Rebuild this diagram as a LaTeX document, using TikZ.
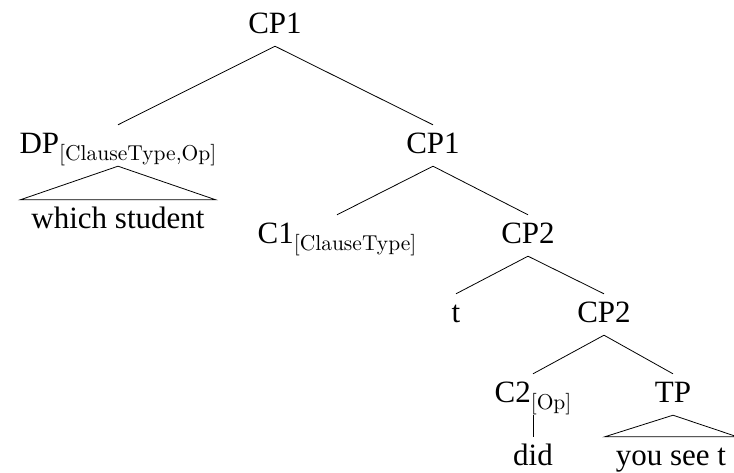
\documentclass[tikz,border=0pt]{standalone}
\usepackage{fontspec}
\setmainfont{Liberation Serif}
\newfontfamily\lmfont{lmroman10-regular.otf}
\newcommand{\sbs}[1]{\raisebox{-7pt}{\fontsize{21.5}{24}\lmfont #1}}
\tikzset{
  lab/.style={anchor=base, inner sep=0pt, text height=28pt, text depth=13pt, font=\fontsize{31}{36}\selectfont},
  leaf/.style={lab, inner xsep=11pt, text depth=6pt},
  br/.style={line width=0.8pt}
}
\begin{document}
\begin{tikzpicture}[x=1pt,y=-1pt]
\useasboundingbox (0,0) rectangle (734,472);
\node[lab] (cp1) at (275,33) {CP1};
\node[lab] (dp) at (118,153) {DP\sbs{[ClauseType,Op]}};
\node[lab] (cp1b) at (433,153) {CP1};
\node[leaf] (ws) at (118,228) {which student};
\node[lab] (c1) at (337,243) {C1\sbs{[ClauseType]}};
\node[lab] (cp2) at (528,243) {CP2};
\node[lab] (t) at (456,322) {t};
\node[lab] (cp2b) at (604,322) {CP2};
\node[lab] (c2) at (533,402) {C2\sbs{[Op]}};
\node[lab] (tp) at (673,402) {TP};
\node[lab] (did) at (533,465) {did};
\node[leaf] (yst) at (671,465) {you see t};
\draw[br] (cp1.south) -- (dp.north);
\draw[br] (cp1.south) -- (cp1b.north);
\draw[br] (dp.south) -- (ws.north west) -- (ws.north east) -- cycle;
\draw[br] (cp1b.south) -- (c1.north);
\draw[br] (cp1b.south) -- (cp2.north);
\draw[br] (cp2.south) -- (t.north);
\draw[br] (cp2.south) -- (cp2b.north);
\draw[br] (cp2b.south) -- (c2.north);
\draw[br] (cp2b.south) -- (tp.north);
\draw[br] (c2.south) -- (did.north);
\draw[br] (tp.south) -- (yst.north west) -- (yst.north east) -- cycle;
\end{tikzpicture}
\end{document}
